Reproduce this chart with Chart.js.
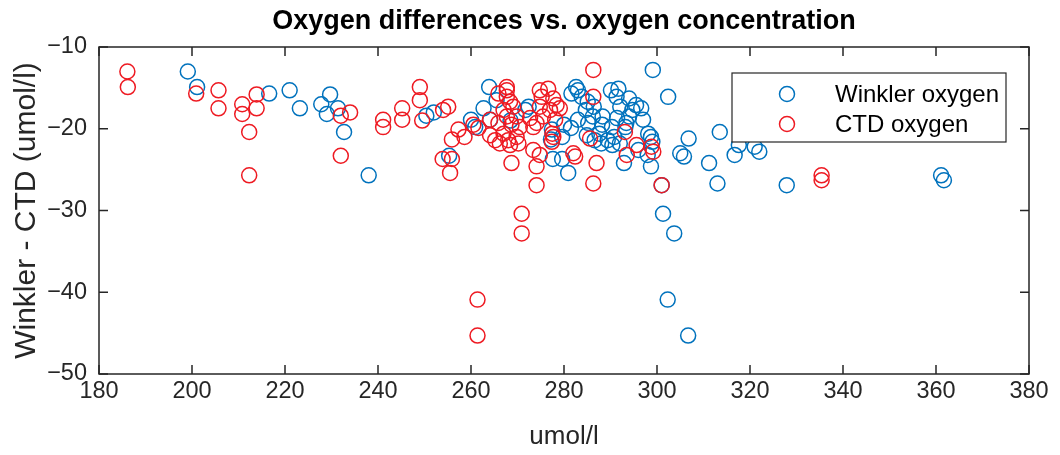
<!DOCTYPE html>
<html lang="en">
<head>
<meta charset="UTF-8">
<title>Oxygen differences vs. oxygen concentration</title>
<script src="https://cdn.jsdelivr.net/npm/chart.js"></script>
<style>
    body { margin: 0; background: #fff; }
    .chart-container { width: 1060px; height: 455px; }
</style>
</head>
<body>
<div class="chart-container">
    <canvas id="oxygenChart" width="1060" height="455"></canvas>
</div>
<script>
// Winkler oxygen, CTD oxygen (umol/l) and their difference, one entry per sample
const winkler = [
    199.1, 201.1, 216.6, 221.0, 223.2, 227.8, 229.0, 229.7, 231.4, 232.7,
    238.0, 250.4, 252.0, 255.3, 260.0, 260.9, 262.7, 264.1, 263.9, 265.5,
    268.5, 271.7, 272.4, 277.4, 277.2, 277.6, 279.6, 280.9, 280.0, 281.5,
    283.0, 282.6, 283.0, 283.8, 281.6, 292.9, 301.3, 303.7, 290.1, 291.7,
    294.0, 295.5, 291.3, 294.7, 292.1, 294.0, 293.4, 291.4, 293.2, 296.0,
    298.0, 298.7, 301.0, 298.7, 299.0, 306.8, 305.0, 305.8, 311.2, 313.0,
    313.5, 316.7, 317.6, 321.0, 322.0, 299.1, 302.4, 327.9, 361.1, 361.7,
    302.3, 306.7, 296.6, 285.1, 286.4, 284.7, 288.3, 286.2, 285.2, 288.2,
    290.3, 287.6, 289.4, 290.8, 286.6, 288.0, 290.4, 292.0, 284.9, 297.0,
    298.1, 279.6
];
const ctd = [
    186.1, 186.2, 200.9, 205.7, 205.7, 210.8, 210.8, 213.9, 213.9, 212.3,
    212.3, 232.0, 234.0, 232.0, 241.1, 241.1, 245.2, 245.2, 249.0, 249.0,
    249.5, 254.0, 255.1, 257.3, 255.9, 253.9, 255.9, 255.5, 260.5, 261.6,
    264.1, 267.7, 267.7, 267.7, 265.9, 268.7, 270.9, 270.9, 274.8, 276.6,
    277.7, 278.4, 275.2, 277.0, 274.8, 275.5, 274.1, 272.7, 273.4, 273.4,
    274.8, 274.1, 274.1, 277.7, 277.4, 285.6, 282.0, 282.4, 287.0, 286.3,
    293.1, 293.5, 295.6, 298.8, 299.2, 286.3, 286.3, 301.0, 335.4, 335.4,
    261.4, 261.4, 279.1, 268.4, 269.1, 267.0, 269.8, 267.7, 265.9, 268.7,
    270.5, 267.0, 268.0, 269.8, 265.2, 266.2, 268.4, 270.2, 264.1, 278.1,
    277.5, 258.6
];
const diff = [
    -13.0, -14.9, -15.7, -15.3, -17.5, -17.0, -18.2, -15.8, -17.5, -20.4,
    -25.7, -18.4, -18.0, -23.3, -18.9, -19.8, -17.5, -18.9, -14.9, -16.5,
    -19.0, -17.7, -17.3, -20.1, -21.3, -23.7, -23.7, -25.4, -19.5, -19.9,
    -18.9, -14.9, -15.3, -16.1, -15.7, -24.2, -30.4, -32.8, -15.3, -15.1,
    -16.3, -17.1, -16.1, -17.7, -17.3, -18.5, -19.3, -18.7, -19.8, -22.6,
    -23.2, -24.6, -26.9, -21.0, -21.6, -21.2, -23.0, -23.4, -24.2, -26.7,
    -20.4, -23.2, -22.0, -22.2, -22.8, -12.8, -16.1, -26.9, -25.7, -26.3,
    -40.9, -45.3, -17.5, -16.7, -17.3, -17.7, -18.5, -18.5, -19.3, -19.5,
    -19.8, -20.6, -21.4, -21.0, -21.4, -21.8, -22.0, -21.8, -20.8, -18.9,
    -20.6, -21.0
];

const xTicks = [180, 200, 220, 240, 260, 280, 300, 320, 340, 360, 380];
const yTicks = [-50, -40, -30, -20, -10];
const seriesNames = ['Winkler oxygen', 'CTD oxygen'];

const blue = '#0072bd';
const red = '#ee1a22';
const axisColor = '#262626';
const fontFamily = '"Liberation Sans", Arial, Helvetica, sans-serif';
const markerRadius = 7.5;

function toPoints(xs) {
    return xs.map((x, i) => ({ x: x, y: diff[i] }));
}

// full box around the plot with inward tick marks on every side
const axesBox = {
    id: 'axesBox',
    afterDatasetsDraw(chart) {
        const { ctx, chartArea: a, scales } = chart;
        const len = 9;
        ctx.save();
        ctx.strokeStyle = axisColor;
        ctx.lineWidth = 1.5;
        ctx.beginPath();
        scales.x.ticks.forEach(t => {
            const px = scales.x.getPixelForValue(t.value);
            ctx.moveTo(px, a.bottom); ctx.lineTo(px, a.bottom - len);
            ctx.moveTo(px, a.top); ctx.lineTo(px, a.top + len);
        });
        scales.y.ticks.forEach(t => {
            const py = scales.y.getPixelForValue(t.value);
            ctx.moveTo(a.left, py); ctx.lineTo(a.left + len, py);
            ctx.moveTo(a.right, py); ctx.lineTo(a.right - len, py);
        });
        ctx.stroke();
        ctx.strokeRect(a.left, a.top, a.right - a.left, a.bottom - a.top);
        ctx.restore();
    }
};

// boxed legend in the upper right corner of the plot
const legendBox = {
    id: 'legendBox',
    afterDraw(chart) {
        const { ctx, chartArea: a } = chart;
        const left = a.left + 633, top = a.top + 26, w = 274, h = 69;
        ctx.save();
        ctx.fillStyle = '#fff';
        ctx.fillRect(left, top, w, h);
        ctx.strokeStyle = axisColor;
        ctx.lineWidth = 1.2;
        ctx.strokeRect(left, top, w, h);
        ctx.font = '24px ' + fontFamily;
        ctx.textBaseline = 'middle';
        chart.data.datasets.forEach((ds, i) => {
            const rowY = top + 21 + i * 30;
            ctx.beginPath();
            ctx.arc(left + 55, rowY, markerRadius, 0, Math.PI * 2);
            ctx.strokeStyle = ds.borderColor;
            ctx.lineWidth = 1.5;
            ctx.stroke();
            ctx.fillStyle = '#000';
            ctx.fillText(ds.label, left + 103, rowY + 1);
        });
        ctx.restore();
    }
};

const tickFont = { family: fontFamily, size: 23.5 };
const labelFont = { family: fontFamily, size: 26 };

const ctx = document.getElementById('oxygenChart').getContext('2d');
new Chart(ctx, {
    type: 'scatter',
    data: {
        datasets: [{
            label: seriesNames[0],
            data: toPoints(winkler),
            borderColor: blue,
            backgroundColor: 'rgba(0,0,0,0)',
            pointRadius: markerRadius,
            pointBorderWidth: 1.5,
            order: 1
        }, {
            label: seriesNames[1],
            data: toPoints(ctd),
            borderColor: red,
            backgroundColor: 'rgba(0,0,0,0)',
            pointRadius: markerRadius,
            pointBorderWidth: 1.5,
            order: 0
        }]
    },
    options: {
        responsive: false,
        animation: false,
        events: [],
        layout: { padding: { left: 0, right: 31, top: 0, bottom: 0 } },
        plugins: {
            legend: { display: false },
            tooltip: { enabled: false },
            title: {
                display: true,
                fullSize: false,
                text: 'Oxygen differences vs. oxygen concentration',
                color: '#000',
                font: { family: fontFamily, size: 27, weight: 'bold' },
                padding: { top: 5, bottom: 9.6 }
            }
        },
        scales: {
            x: {
                type: 'linear',
                min: 180,
                max: 380,
                afterBuildTicks: s => { s.ticks = xTicks.map(v => ({ value: v })); },
                afterFit: s => { s.height = 81; },
                grid: { display: false, drawTicks: false },
                border: { display: false },
                ticks: { color: axisColor, font: tickFont, padding: 3, maxRotation: 0, autoSkip: false },
                title: { display: true, text: 'umol/l', color: axisColor, font: labelFont, padding: { top: 0, bottom: 2.4 } }
            },
            y: {
                type: 'linear',
                min: -50,
                max: -10,
                afterBuildTicks: s => { s.ticks = yTicks.map(v => ({ value: v })); },
                afterFit: s => { s.width = 99; },
                grid: { display: false, drawTicks: false },
                border: { display: false },
                ticks: {
                    color: axisColor,
                    font: tickFont,
                    padding: 12,
                    autoSkip: false,
                    // typeset negative values with a proper minus sign
                    callback: v => String(v).replace('-', '\u2212')
                },
                title: {
                    display: true,
                    text: 'Winkler - CTD (umol/l)',
                    color: axisColor,
                    font: { family: fontFamily, size: 30 },
                    padding: { top: 9, bottom: 0 }
                }
            }
        }
    },
    plugins: [axesBox, legendBox]
});
</script>
</body>
</html>
